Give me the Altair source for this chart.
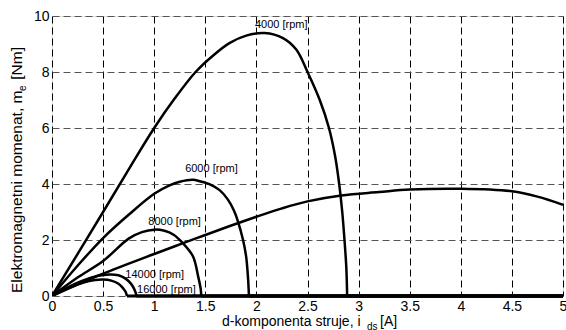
import altair as alt
import pandas as pd

# Torque vs. d-axis current curves (id in A, me in Nm)
id_4000 = [0, 0.5, 0.78, 1.0, 1.2, 1.405, 1.58, 1.74, 1.9, 2.08, 2.26, 2.39, 2.5, 2.62, 2.71, 2.77, 2.81, 2.84, 2.862, 2.88, 2.888]
me_4000 = [0, 3.0, 4.7, 6.0, 7.05, 8.0, 8.6, 9.04, 9.3, 9.39, 9.21, 8.8, 8.0, 7.0, 6.0, 5.0, 4.0, 3.0, 2.0, 1.0, 0]

id_6000 = [0, 0.25, 0.5, 0.75, 1.0, 1.15, 1.25, 1.38, 1.445, 1.55, 1.64, 1.72, 1.78, 1.82, 1.87, 1.9, 1.917, 1.927]
me_6000 = [0, 1.08, 2.07, 2.9, 3.65, 3.95, 4.08, 4.15, 4.1, 3.98, 3.78, 3.45, 3.05, 2.66, 1.99, 1.4, 0.7, 0]

id_8000 = [0, 0.25, 0.5, 0.75, 0.88, 1.0, 1.1, 1.19, 1.28, 1.38, 1.43, 1.455, 1.46]
me_8000 = [0, 0.66, 1.25, 2.05, 2.28, 2.37, 2.33, 2.19, 1.89, 1.41, 0.7, 0.25, 0]

id_14000 = [0, 0.15, 0.3, 0.45, 0.56, 0.65, 0.72, 0.77, 0.8, 0.82, 0.826]
me_14000 = [0, 0.3, 0.55, 0.72, 0.77, 0.74, 0.62, 0.45, 0.28, 0.1, 0]

id_16000 = [0, 0.15, 0.3, 0.42, 0.5, 0.58, 0.65, 0.69, 0.72, 0.733]
me_16000 = [0, 0.27, 0.47, 0.57, 0.59, 0.55, 0.44, 0.3, 0.15, 0]

id_limit = [0, 0.5, 1.0, 1.27, 1.5, 1.74, 2.0, 2.25, 2.5, 2.83, 3.2, 3.5, 4.0, 4.5, 4.75, 5.0]
me_limit = [0, 0.8, 1.5, 1.87, 2.18, 2.5, 2.83, 3.13, 3.38, 3.59, 3.71, 3.8, 3.83, 3.74, 3.55, 3.26]

# Beyond its end point each speed curve runs along zero torque up to this current
id_max = 5.0

# Curve annotations
label_text = ["4000 [rpm]", "6000 [rpm]", "8000 [rpm]", "14000 [rpm]", "16000 [rpm]"]
label_x = [2.243, 1.56, 1.20, 1.005, 1.12]
label_y = [9.69, 4.54, 2.64, 0.74, 0.2]

x_ticks = [0, 0.5, 1, 1.5, 2, 2.5, 3, 3.5, 4, 4.5, 5]
y_ticks = [0, 2, 4, 6, 8, 10]

FONT = "Liberation Sans"
W, H = 511, 280

speed_series = [
    ("n4000", id_4000, me_4000),
    ("n6000", id_6000, me_6000),
    ("n8000", id_8000, me_8000),
    ("n14000", id_14000, me_14000),
    ("n16000", id_16000, me_16000),
]
rows = []
for name, xs, ys in speed_series + [("limit", id_limit, me_limit)]:
    for k, (xv, yv) in enumerate(zip(xs, ys)):
        rows.append({"curve": name, "k": k, "id": xv, "me": yv})
curves_df = pd.DataFrame(rows)

floor_rows = []
for name, xs, ys in speed_series:
    floor_rows.append({"curve": name, "k": 0, "id": xs[-1], "me": ys[-1]})
    floor_rows.append({"curve": name, "k": 1, "id": id_max, "me": ys[-1]})
floor_df = pd.DataFrame(floor_rows)

x_scale = alt.Scale(domain=[0, 5], nice=False, zero=False)
y_scale = alt.Scale(domain=[0, 10], nice=False)

x_axis = alt.Axis(values=x_ticks, format=".1~f", title=None, ticks=False, domain=False,
                  labelFont=FONT, labelFontSize=14, labelColor="black", labelPadding=3,
                  grid=True, gridColor="black", gridDash=[7, 4], gridWidth=1,
                  labelFlush=False)
y_axis = alt.Axis(values=y_ticks, format=".1~f", title=None, ticks=False, domain=False,
                  labelFont=FONT, labelFontSize=14, labelColor="black", labelPadding=3,
                  grid=True, gridColor="#555555", gridDash=[7, 4], gridWidth=1,
                  labelFlush=False)

lines = alt.Chart(curves_df).mark_line(
    color="black", strokeWidth=2.5, strokeJoin="round",
    interpolate="catmull-rom", clip=True
).encode(
    x=alt.X("id:Q", scale=x_scale, axis=x_axis),
    y=alt.Y("me:Q", scale=y_scale, axis=y_axis),
    detail="curve:N",
    order="k:Q",
)

floor = alt.Chart(floor_df).mark_line(color="black", strokeWidth=3, clip=False).encode(
    x=alt.X("id:Q", scale=x_scale),
    y=alt.Y("me:Q", scale=y_scale),
    detail="curve:N",
    order="k:Q",
)

labels_df = pd.DataFrame({"t": label_text, "x": label_x, "y": label_y})
labels = alt.Chart(labels_df).mark_text(font=FONT, fontSize=11, color="black",
                                        align="center", baseline="middle").encode(
    x=alt.X("x:Q", scale=x_scale),
    y=alt.Y("y:Q", scale=y_scale),
    text="t:N",
)


def text_piece(s, x, y, size, align="left", baseline="alphabetic", angle=0):
    return alt.Chart(pd.DataFrame({"s": [s]})).mark_text(
        font=FONT, fontSize=size, color="black", align=align, baseline=baseline, angle=angle
    ).encode(text="s:N", x=alt.value(x), y=alt.value(y))


# x-axis title with subscript
xt_main = text_piece("d-komponenta struje, i", 170, 310, 14)
xt_sub = text_piece("ds", 315, 313.5, 10)
xt_unit = text_piece("[A]", 328, 310, 14)

# y-axis title with subscript (rotated)
yt_main = text_piece("Elektromagnetni momenat, m", -30.5, 277, 15.5, angle=270)
yt_sub = text_piece("e", -26, 75, 10, angle=270)
yt_unit = text_piece("[Nm]", -30.5, 31, 15.5, align="right", angle=270)

chart = alt.layer(
    lines, floor, labels, xt_main, xt_sub, xt_unit, yt_main, yt_sub, yt_unit
).properties(
    width=W, height=H,
    autosize=alt.AutoSizeParams(type="none"),
    padding={"left": 52, "top": 16, "right": 3, "bottom": 34},
).configure_view(
    stroke="black", strokeWidth=1
).configure(background="white")

chart.save("out.html", embed_options={"renderer": "svg", "actions": False})
